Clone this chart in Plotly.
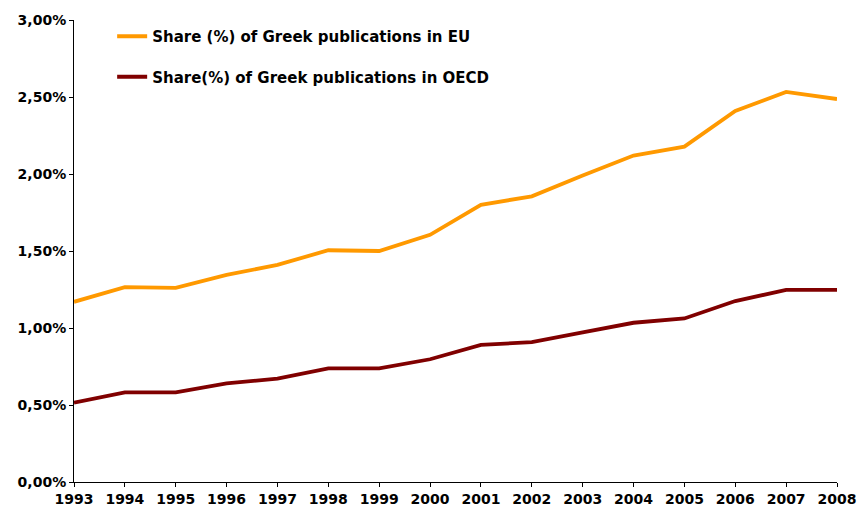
import plotly.graph_objects as go

years = list(range(1993, 2009))
eu_share = [1.17, 1.265, 1.26, 1.345, 1.41, 1.505, 1.50, 1.605, 1.80, 1.855, 1.99, 2.12, 2.178, 2.41, 2.533, 2.487]
oecd_share = [0.515, 0.582, 0.582, 0.64, 0.671, 0.738, 0.738, 0.797, 0.89, 0.908, 0.972, 1.034, 1.062, 1.175, 1.247, 1.247]

y_ticks = [0, 0.5, 1.0, 1.5, 2.0, 2.5, 3.0]
y_tick_labels = ["0,00%", "0,50%", "1,00%", "1,50%", "2,00%", "2,50%", "3,00%"]

name_eu = "Share (%) of Greek publications in EU"
name_oecd = "Share(%) of Greek publications in OECD"

fig = go.Figure()
fig.add_trace(go.Scatter(x=years, y=eu_share, mode="lines", name=name_eu,
                         line=dict(color="#FF9900", width=3.8), legendgroup="a"))
fig.add_trace(go.Scatter(x=years, y=oecd_share, mode="lines", name=name_oecd,
                         line=dict(color="#800000", width=3.8), legendgroup="b"))

font_family = "DejaVu Sans, Verdana, sans-serif"

fig.update_layout(
    width=859, height=506,
    margin=dict(l=74, r=22, t=20, b=24),
    plot_bgcolor="white", paper_bgcolor="white",
    font=dict(family=font_family, color="black"),
    showlegend=True,
    legend=dict(x=0.050, y=1.0, xanchor="left", yanchor="top",
                font=dict(size=15, family=font_family, color="black", weight="bold"),
                tracegroupgap=18, bgcolor="rgba(0,0,0,0)", itemwidth=30),
    xaxis=dict(range=[1993, 2008], tickmode="array", tickvals=years,
               ticktext=[str(y) for y in years], automargin=False,
               showline=True, linecolor="black", linewidth=1,
               ticks="outside", ticklen=4, tickcolor="black",
               showgrid=False, zeroline=False,
               tickfont=dict(size=14, family=font_family, color="black", weight="bold")),
    yaxis=dict(range=[0, 3.0], tickmode="array", tickvals=y_ticks, ticktext=y_tick_labels,
               automargin=False,
               showline=True, linecolor="black", linewidth=1,
               ticks="outside", ticklen=4, tickcolor="black",
               showgrid=False, zeroline=False,
               tickfont=dict(size=14, family=font_family, color="black", weight="bold")),
)

# remove the default page margin so the figure fills the window exactly
fig.write_html("out.html",
               config={"displayModeBar": False},
               post_script="document.body.style.margin='0';document.body.style.overflow='hidden';")
